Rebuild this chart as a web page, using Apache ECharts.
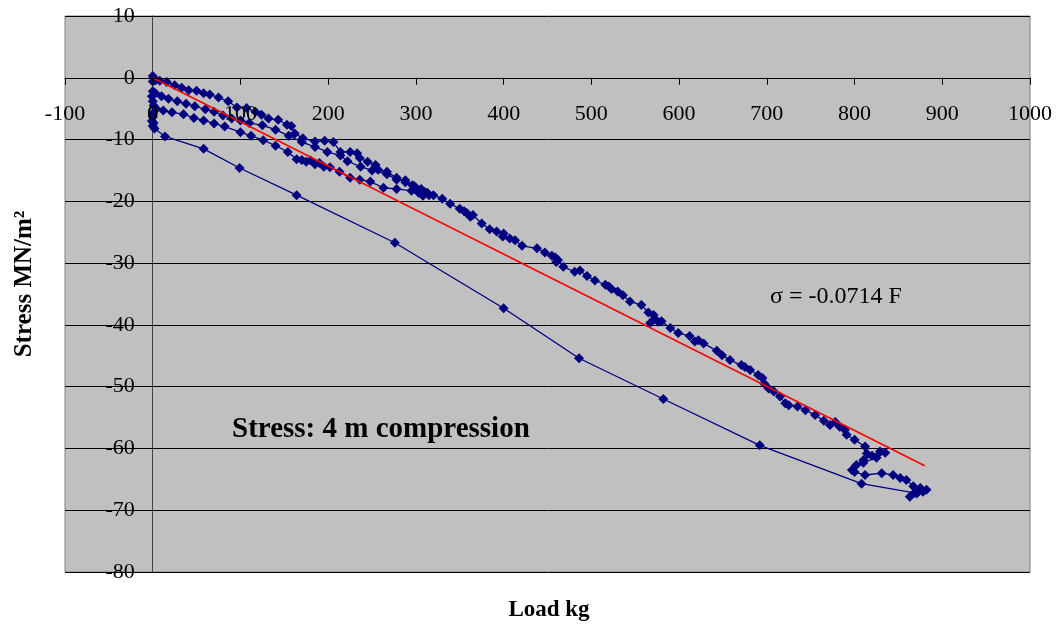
<!DOCTYPE html>
<html>
<head>
<meta charset="utf-8">
<title>Stress: 4 m compression</title>
<script src="https://cdn.jsdelivr.net/npm/echarts@6/dist/echarts.min.js"></script>
<style>
  body { margin: 0; padding: 0; background: #fff; }
  #main { width: 1063px; height: 625px; }
</style>
</head>
<body>
<div id="main"></div>
<script>
// measured load (kg) and stress (MN/m2), in test order
const loadKg = [
  0, 1, 0, 3,
  8, 16, 25, 33, 41, 50, 58, 65, 75, 86, 96, 107, 117, 124, 132, 143, 153, 158, 162, 171, 185, 196, 206, 214, 225, 233, 236, 245, 254, 257, 267, 278, 288, 296, 300, 305, 310, 313,
  306, 298, 288, 278, 267, 250, 237, 222, 214, 199, 185, 170, 155, 140, 125, 110, 100, 90, 80, 70, 60, 48, 38, 28, 18, 10, 3, 0, -1, 0, 1, 4,
  12, 22, 35, 47, 58, 70, 82, 100, 112, 126, 140, 154, 164, 170, 175, 180, 185, 190, 195, 202, 213, 225, 236, 248, 263, 278, 295, 303, 308, 315,
  320, 330, 339, 350, 355, 358, 362, 365, 375, 384, 392, 400, 399, 407, 413, 421, 438, 447, 455, 459, 462, 460, 468, 481, 487, 495, 504, 516, 520, 523, 530,
  536, 544, 557, 565, 571, 576, 567, 572, 580, 590, 599, 612, 618, 622, 628, 643, 649, 658, 671, 675, 681, 690, 695, 697, 702, 708, 715, 721,
  725, 735, 744, 755, 765, 772, 778, 783, 789, 791, 800, 812, 814, 810, 820, 829, 835, 825, 810, 802, 797, 800, 812, 831, 844, 852, 859, 867, 875, 882, 878, 871, 863, 868,
  808, 692, 582, 486, 400, 276, 164, 99, 58, 14, 2, 0, -1, 0, 1, 0
];
const stressMN = [
  0.3, 0, -0.6, -0.4,
  -0.5, -0.7, -1.2, -1.6, -2.0, -2.1, -2.5, -2.7, -3.2, -3.8, -4.8, -4.9, -5.5, -6.0, -6.6, -6.8, -7.6, -7.8, -9.0, -9.8, -10.3, -10.2, -10.4, -12.0, -12.0, -12.2, -13.0, -13.6, -14.1, -14.9, -15.2, -16.2, -16.9, -17.4, -17.8, -18.2, -18.5, -18.6,
  -18.0, -17.5, -16.6, -16.5, -15.6, -15.0, -14.4, -13.5, -12.6, -12.0, -11.2, -10.4, -9.4, -8.4, -7.7, -7.3, -6.9, -6.6, -6.1, -5.5, -5.1, -4.6, -4.2, -3.8, -3.4, -3.0, -2.5, -2.2, -3.0, -3.8, -4.5, -5.0,
  -5.3, -5.6, -5.9, -6.5, -6.9, -7.4, -7.9, -8.8, -9.4, -10.1, -11.0, -12.0, -13.2, -13.3, -13.6, -13.4, -14.0, -13.8, -14.4, -14.5, -15.2, -16.2, -16.5, -16.8, -17.8, -18.0, -18.3, -18.6, -19.1, -19.0,
  -19.0, -19.6, -20.4, -21.2, -21.6, -21.9, -22.5, -22.2, -23.6, -24.5, -24.9, -25.2, -25.7, -26.0, -26.3, -27.2, -27.6, -28.3, -28.8, -29.1, -29.5, -29.8, -30.6, -31.4, -31.2, -32.1, -32.8, -33.5, -33.8, -34.2, -34.6,
  -35.2, -36.2, -36.8, -38.0, -38.4, -39.5, -39.7, -39.0, -39.4, -40.5, -41.3, -41.8, -42.7, -42.5, -43.0, -44.2, -44.9, -45.7, -46.5, -46.8, -47.3, -48.1, -48.6, -49.5, -50.3, -50.8, -51.6, -52.7,
  -53.0, -53.2, -53.8, -54.6, -55.5, -56.2, -55.7, -56.5, -57.0, -57.8, -58.6, -59.7, -60.8, -61.9, -61.2, -60.5, -60.7, -61.5, -62.3, -62.7, -63.5, -63.8, -64.3, -64.0, -64.3, -64.8, -65.1, -66.1, -66.4, -66.7, -67.0, -67.3, -67.8, -67.2,
  -65.7, -59.5, -52.0, -45.4, -37.3, -26.7, -19.0, -14.6, -11.5, -9.5, -8.2, -7.8, -7.0, -6.3, -7.3, -5.8
];
// trend line end points (sigma = -0.0714 F)
const fitLoad = [0, 880];
const fitStress = [0, -62.8];

const xTicks = { min: -100, max: 1000, step: 100 };
const yTicks = { min: -80, max: 10, step: 10 };

const serif = 'Liberation Serif';
const W = 1063, H = 625;
const gridBox = { left: 65, right: 33, top: 16, bottom: 53 };
// axes cross at (0, 0): shift each axis from the grid edge to the zero line
const plotW = W - gridBox.left - gridBox.right;
const plotH = H - gridBox.top - gridBox.bottom;
const yAxisShift = plotW * (0 - xTicks.min) / (xTicks.max - xTicks.min);
const xAxisShift = plotH * (0 - yTicks.min) / (yTicks.max - yTicks.min);
const xLabelMargin = 25;

const myChart = echarts.init(document.getElementById('main'), null, { renderer: 'canvas' });

const measured = loadKg.map(function (v, i) { return [v, stressMN[i]]; });
const fit = fitLoad.map(function (v, i) { return [v, fitStress[i]]; });

const option = {
  animation: false,
  textStyle: { fontFamily: serif },
  grid: {
    left: gridBox.left, right: gridBox.right, top: gridBox.top, bottom: gridBox.bottom,
    containLabel: false,
    outerBoundsMode: 'none',
    show: true,
    backgroundColor: '#c0c0c0',
    borderColor: '#808080',
    borderWidth: 1
  },
  xAxis: {
    type: 'value',
    position: 'bottom',
    offset: -xAxisShift,
    z: 6,
    min: xTicks.min,
    max: xTicks.max,
    interval: xTicks.step,
    axisLine: { onZero: false, lineStyle: { color: '#000', width: 1 } },
    axisTick: { length: 7, lineStyle: { color: '#000' } },
    axisLabel: {
      fontFamily: serif, fontSize: 22, color: '#000', margin: xLabelMargin,
      hideOverlap: false,
      formatter: function (v) { return String(v); }
    },
    splitLine: { show: false }
  },
  yAxis: {
    type: 'value',
    position: 'left',
    offset: -yAxisShift,
    min: yTicks.min,
    max: yTicks.max,
    interval: yTicks.step,
    axisLine: { onZero: false, lineStyle: { color: '#404040', width: 1 } },
    axisTick: { length: 7, lineStyle: { color: '#000' } },
    axisLabel: {
      fontFamily: serif, fontSize: 22, color: '#000', margin: 18,
      hideOverlap: false,
      formatter: function (v) { return String(v); }
    },
    splitLine: { show: true, lineStyle: { color: '#000', width: 1 } }
  },
  graphic: [
    {
      // x tick label at the axis crossing, which the axis itself leaves out
      type: 'text', z: 10,
      x: gridBox.left + yAxisShift,
      y: gridBox.top + plotH - xAxisShift + xLabelMargin + 11,
      style: { text: '0', fontFamily: serif, fontSize: 22, fill: '#000', align: 'center', verticalAlign: 'middle' }
    },
    {
      type: 'text', x: 549, y: 610,
      style: { text: 'Load kg', fontFamily: serif, fontSize: 23, fontWeight: 'bold', fill: '#000', align: 'center', verticalAlign: 'middle' }
    },
    {
      type: 'text', x: 25, y: 284, rotation: Math.PI / 2,
      style: { text: 'Stress MN/m²', fontFamily: serif, fontSize: 25, fontWeight: 'bold', fill: '#000', align: 'center', verticalAlign: 'middle' }
    },
    {
      type: 'text', x: 770, y: 297,
      style: { text: 'σ = -0.0714 F', fontFamily: serif, fontSize: 24, fill: '#000', verticalAlign: 'middle' }
    },
    {
      type: 'text', x: 232, y: 430,
      style: { text: 'Stress: 4 m compression', fontFamily: serif, fontSize: 29, fontWeight: 'bold', fill: '#000', verticalAlign: 'middle' }
    }
  ],
  series: [
    {
      name: 'Stress',
      type: 'line',
      data: measured,
      symbol: 'diamond',
      symbolSize: 10,
      showAllSymbol: true,
      itemStyle: { color: '#000080' },
      lineStyle: { color: '#000080', width: 1.3 },
      z: 3
    },
    {
      name: 'Linear fit',
      type: 'line',
      data: fit,
      symbol: 'none',
      lineStyle: { color: '#ff0000', width: 1.5 },
      z: 4
    }
  ]
};
myChart.setOption(option);
</script>
</body>
</html>
